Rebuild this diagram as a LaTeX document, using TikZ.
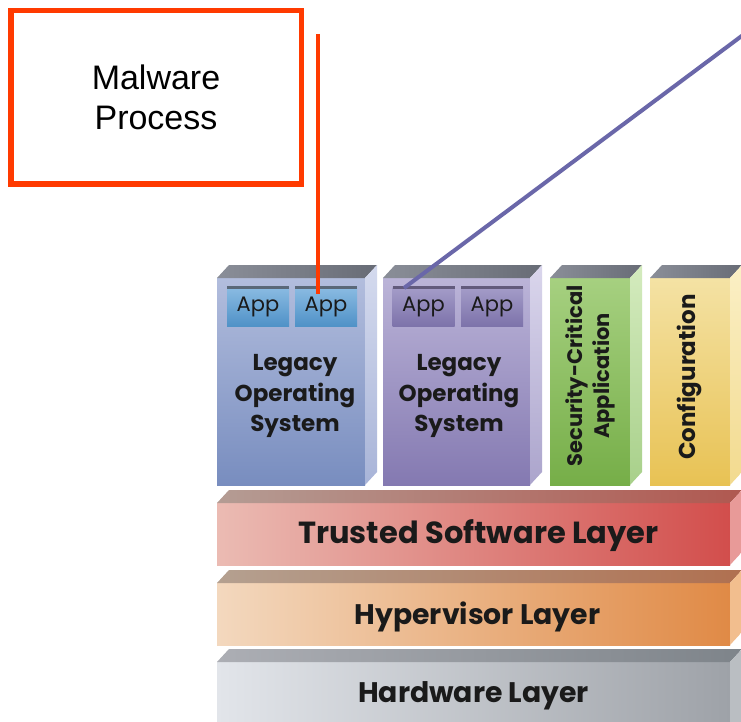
\documentclass[tikz,border=0pt]{standalone}
\usepackage{fontspec}
\setmainfont{Liberation Sans}
\newfontfamily\geo{Poppins}
\usetikzlibrary{calc}
\definecolor{malred}{HTML}{FF3A00}
\definecolor{lineblue}{HTML}{6A67A9}
\definecolor{topgrayL}{HTML}{8A8E98}
\definecolor{topgrayR}{HTML}{686C76}
\definecolor{txt}{HTML}{1A1A1A}
% column 1 (blue)
\definecolor{c1t}{HTML}{B2BDDD}
\definecolor{c1b}{HTML}{788DBF}
\definecolor{c1sT}{HTML}{D4DAEE}
\definecolor{c1sB}{HTML}{A8B4D8}
% column 2 (purple)
\definecolor{c2t}{HTML}{BBB4D8}
\definecolor{c2b}{HTML}{8479B1}
\definecolor{c2sT}{HTML}{DAD6EC}
\definecolor{c2sB}{HTML}{ABA4CC}
% column 3 (green)
\definecolor{c3t}{HTML}{A6D080}
\definecolor{c3b}{HTML}{76AE48}
\definecolor{c3sT}{HTML}{D4EBBE}
\definecolor{c3sB}{HTML}{A8D08A}
% column 4 (yellow)
\definecolor{c4t}{HTML}{F4E2A4}
\definecolor{c4b}{HTML}{E8C254}
\definecolor{c4sT}{HTML}{FBF0C6}
\definecolor{c4sB}{HTML}{F2DA8E}
% layers
\definecolor{trL}{HTML}{EBBBB3}
\definecolor{trR}{HTML}{D24E4C}
\definecolor{trTL}{HTML}{B49C94}
\definecolor{trTR}{HTML}{B05850}
\definecolor{trS}{HTML}{E89A98}
\definecolor{hyL}{HTML}{F3D8BE}
\definecolor{hyR}{HTML}{E08A46}
\definecolor{hyTL}{HTML}{B4A090}
\definecolor{hyTR}{HTML}{B07050}
\definecolor{hyS}{HTML}{F2BE8E}
\definecolor{hwL}{HTML}{E2E5EA}
\definecolor{hwR}{HTML}{9EA2A8}
\definecolor{hwTL}{HTML}{ACAEB4}
\definecolor{hwTR}{HTML}{7E848A}
\definecolor{hwS}{HTML}{BABEC2}
% apps
\definecolor{a1t}{HTML}{8ABBE2}
\definecolor{a1b}{HTML}{4F91C7}
\definecolor{a1l}{HTML}{5A6878}
\definecolor{a2t}{HTML}{A49CC8}
\definecolor{a2b}{HTML}{7C72AA}
\definecolor{a2l}{HTML}{625A7C}
\newcommand\slabfaces[5]{%
  \shade[left color=#2,right color=#3] (#1.north west) -- ++(12,-13) -- ($(#1.north east)+(12,-13)$) -- (#1.north east) -- cycle;
  \shade[top color=#4,bottom color=#5] (#1.north east) -- ++(12,-13) -- ($(#1.south east)+(12,-13)$) -- (#1.south east) -- cycle;}
\tikzset{
  face/.style={inner sep=0pt,outer sep=0pt,anchor=north west},
  appbox/.style={inner sep=0pt,outer sep=0pt,minimum width=62pt,minimum height=39pt,font=\geo\fontsize{21}{21}\selectfont,text=txt},
  coltext/.style={align=center,text=txt,font=\geo\bfseries\fontsize{23}{30.5}\selectfont},
  rottext/.style={align=center,text=txt,rotate=90,font=\geo\bfseries\fontsize{21}{27}\selectfont},
  layertext/.style={text=txt,font=\geo\bfseries\fontsize{30.5}{30.5}\selectfont},
  layertextsm/.style={text=txt,font=\geo\bfseries\fontsize{28.3}{28.3}\selectfont}
}
\begin{document}
\begin{tikzpicture}[x=1pt,y=-1pt]
\useasboundingbox (0,0) rectangle (741,722);
\clip (0,0) rectangle (741,722);
\fill[white] (0,0) rectangle (741,722);

% ---------- columns ----------
\node[face,top color=c1t,bottom color=c1b,minimum width=148pt,minimum height=207pt] (col1) at (217,278) {};
\node[face,top color=c2t,bottom color=c2b,minimum width=147pt,minimum height=207pt] (col2) at (383,278) {};
\node[face,top color=c3t,bottom color=c3b,minimum width=80pt,minimum height=207pt] (col3) at (550,278) {};
\node[face,top color=c4t,bottom color=c4b,minimum width=80pt,minimum height=207pt] (col4) at (650,278) {};
\slabfaces{col1}{topgrayL}{topgrayR}{c1sT}{c1sB}
\slabfaces{col2}{topgrayL}{topgrayR}{c2sT}{c2sB}
\slabfaces{col3}{topgrayL}{topgrayR}{c3sT}{c3sB}
\slabfaces{col4}{topgrayL}{topgrayR}{c4sT}{c4sB}

% ---------- layers ----------
\node[face,left color=trL,right color=trR,minimum width=513pt,minimum height=62pt] (trusted) at (217,503) {};
\node[face,left color=hyL,right color=hyR,minimum width=513pt,minimum height=62pt] (hyper) at (217,583) {};
\node[face,left color=hwL,right color=hwR,minimum width=513pt,minimum height=80pt] (hard) at (217,662) {};
\slabfaces{trusted}{trTL}{trTR}{trS}{trS}
\slabfaces{hyper}{hyTL}{hyTR}{hyS}{hyS}
\slabfaces{hard}{hwTL}{hwTR}{hwS}{hwS}

\node[layertext] (trustedtxt) at ($(trusted.center)+(5,2)$) {Trusted Software Layer};
\node[layertextsm] (hypertxt) at ($(hyper.center)+(4,3)$) {Hypervisor Layer};
\node[layertextsm] (hardtxt) at ($(hard.north)+(0,34)$) {Hardware Layer};

% ---------- apps ----------
\node[appbox,top color=a1t,bottom color=a1b] (app11) at (258,307) {App};
\node[appbox,top color=a1t,bottom color=a1b] (app12) at (326,307) {App};
\node[appbox,top color=a2t,bottom color=a2b] (app21) at (423.5,307) {App};
\node[appbox,top color=a2t,bottom color=a2b] (app22) at (492,307) {App};
\foreach \a/\c in {app11/a1l,app12/a1l,app21/a2l,app22/a2l}
  \draw[\c,line width=3pt] (\a.north west) -- (\a.north east);

\node[coltext] (os1) at (295,396) {Legacy\\Operating\\System};
\node[coltext] (os2) at (459,396) {Legacy\\Operating\\System};
\node[rottext] (sca) at (590,376) {Security-Critical\\Application};
\node[rottext,font=\geo\bfseries\fontsize{23}{27}\selectfont] (conf) at (689,377) {Configuration};

% ---------- malware ----------
\node[draw=malred,line width=5.5pt,minimum width=290.5pt,minimum height=173.5pt,inner sep=0pt,
      align=center,font=\fontsize{34}{40}\selectfont] (malware) at (156,97.5) {Malware\\Process};

\coordinate (redtop) at (318,34);
\coordinate (redend) at (318,294);
\draw[malred,line width=4.5pt] (redtop) -- (redend);

\coordinate (bluetop) at (743,35);
\coordinate (blueend) at (404,288);
\draw[lineblue,line width=4pt] (bluetop) -- (blueend);
\end{tikzpicture}
\end{document}
